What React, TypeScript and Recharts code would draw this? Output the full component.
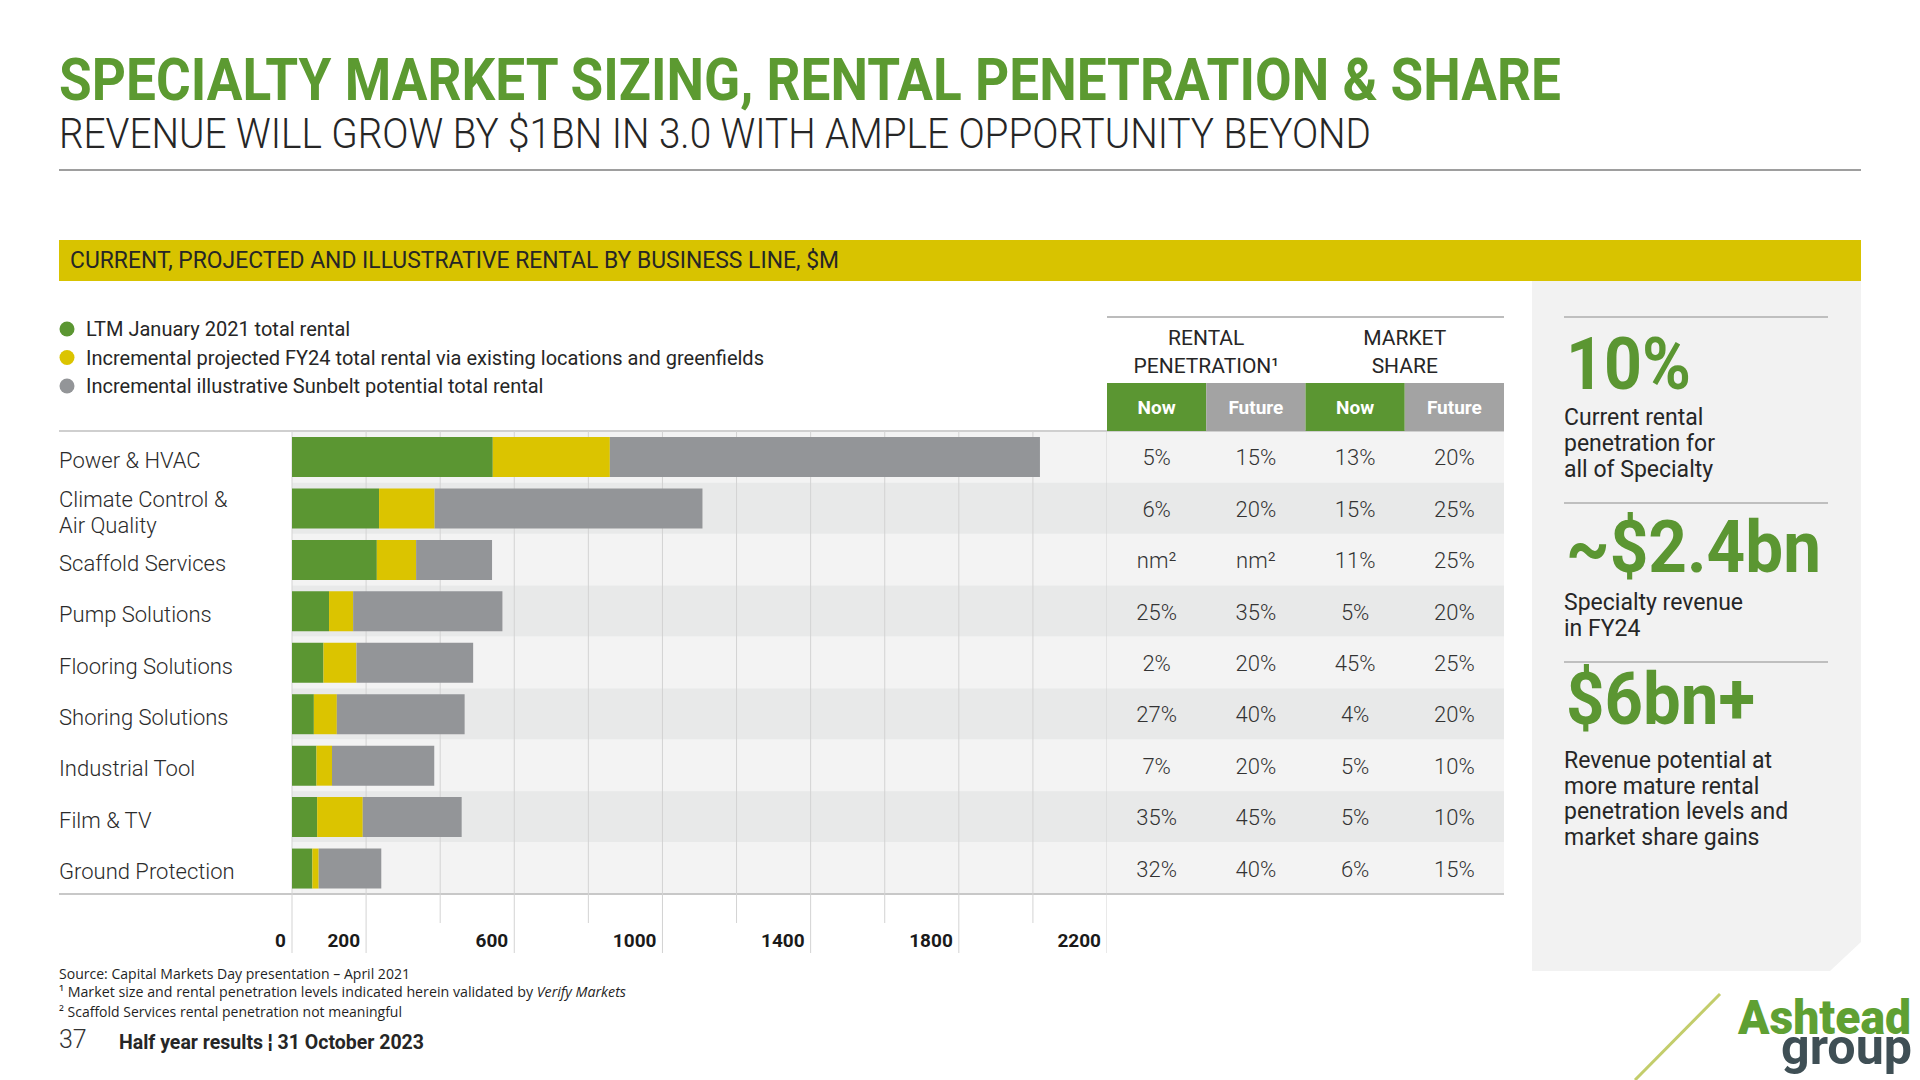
import React from 'react';
import { BarChart, Bar, XAxis, YAxis, CartesianGrid } from 'recharts';

// business lines (top to bottom)
const categories = [
  'Power & HVAC',
  'Climate Control &\nAir Quality',
  'Scaffold Services',
  'Pump Solutions',
  'Flooring Solutions',
  'Shoring Solutions',
  'Industrial Tool',
  'Film & TV',
  'Ground Protection',
];

// $m
const ltmRental = [542, 235, 229, 100, 85, 59, 66, 68, 55];
const projectedIncrement = [316, 150, 106, 65, 89, 62, 42, 123, 17];
const illustrativeIncrement = [1161, 723, 205, 403, 315, 345, 276, 267, 169];

const seriesNames = [
  'LTM January 2021 total rental',
  'Incremental projected FY24 total rental via existing locations and greenfields',
  'Incremental illustrative Sunbelt potential total rental',
];

const gridTicks = [0, 200, 400, 600, 800, 1000, 1200, 1400, 1600, 1800, 2000, 2200];
const labelledTicks = [0, 200, 600, 1000, 1400, 1800, 2200];

// table columns
const penetrationNow = ['5%', '6%', 'nm²', '25%', '2%', '27%', '7%', '35%', '32%'];
const penetrationFuture = ['15%', '20%', 'nm²', '35%', '20%', '40%', '20%', '45%', '40%'];
const shareNow = ['13%', '15%', '11%', '5%', '45%', '4%', '5%', '5%', '6%'];
const shareFuture = ['20%', '25%', '25%', '20%', '25%', '20%', '10%', '10%', '15%'];

const GREEN = '#5B9632';
const YELLOW = '#DBC400';
const GREY = '#939598';
const HEAD_GREY = '#A3A3A3';
const GRID = '#D3D3D3';
const TEXT = '#262626';

const PLOT_TOP = 431;
const PLOT_BOTTOM = 894;
const PLOT_LEFT = 292;
const PLOT_RIGHT = 1107;
const TABLE_RIGHT = 1504;
const LABEL_X = 59;

const chartData = categories.map((name, i) => ({
  name,
  ltm: ltmRental[i],
  projected: projectedIncrement[i],
  illustrative: illustrativeIncrement[i],
}));

const rowH = (PLOT_BOTTOM - PLOT_TOP) / categories.length;
const colW = (TABLE_RIGHT - PLOT_RIGHT) / 4;
const tableCols = [penetrationNow, penetrationFuture, shareNow, shareFuture];

const YTick = (props: any) => {
  const { y, payload } = props;
  const lines = String(payload.value).split('\n');
  const first = lines.length > 1 ? y - 1 : y + 11;
  return (
    <text x={LABEL_X} y={first} textAnchor="start" fontFamily="Roboto" fontWeight={300} fontSize={22} fill="#2b2b2b">
      {lines.map((l, i) => (
        <tspan key={i} x={LABEL_X} dy={i === 0 ? 0 : 26}>{l}</tspan>
      ))}
    </text>
  );
};

const XTick = (props: any) => {
  const { x, payload } = props;
  const labelled = labelledTicks.includes(payload.value);
  return (
    <g>
      <line x1={x} x2={x} y1={PLOT_BOTTOM} y2={PLOT_BOTTOM + (labelled ? 59 : 29)} stroke={GRID} strokeWidth={1} />
      {labelled && (
        <text x={x - 6} y={PLOT_BOTTOM + 53} textAnchor="end" fontFamily="Roboto" fontWeight={700} fontSize={19} fill="#1a1a1a">
          {payload.value}
        </text>
      )}
    </g>
  );
};

const Slide = () => {
  const colors = [GREEN, YELLOW, GREY];
  return (
    <svg width={1920} height={1080} style={{ position: 'absolute', left: 0, top: 0 }} fontFamily="Roboto">
      {/* heading */}
      <text x={59} y={100} fontSize={59} fontWeight={700} fill="#5C9A31" textLength={1502} lengthAdjust="spacingAndGlyphs">
        SPECIALTY MARKET SIZING, RENTAL PENETRATION &amp; SHARE
      </text>
      <text x={59} y={148} fontSize={42} fontWeight={300} fill={TEXT} textLength={1312} lengthAdjust="spacingAndGlyphs">
        REVENUE WILL GROW BY $1BN IN 3.0 WITH AMPLE OPPORTUNITY BEYOND
      </text>
      <line x1={59} x2={1861} y1={170} y2={170} stroke="#9E9E9E" strokeWidth={2} />

      <rect x={59} y={240} width={1802} height={41} fill="#D8C300" />
      <text x={70} y={268} fontSize={23} fill={TEXT} textLength={769} lengthAdjust="spacingAndGlyphs">
        CURRENT, PROJECTED AND ILLUSTRATIVE RENTAL BY BUSINESS LINE, $M
      </text>

      {/* side panel */}
      <polygon points="1532,281 1861,281 1861,942 1830,971 1532,971" fill="#F2F2F2" />

      {/* legend */}
      {seriesNames.map((s, i) => (
        <g key={s}>
          <circle cx={67} cy={329 + i * 28.5} r={7.5} fill={colors[i]} />
          <text x={86} y={336 + i * 28.5} fontSize={20} fill={TEXT}>{s}</text>
        </g>
      ))}

      {/* row stripes */}
      {categories.map((c, i) => (
        <rect key={c} x={PLOT_LEFT} y={PLOT_TOP + i * rowH} width={TABLE_RIGHT - PLOT_LEFT} height={rowH}
          fill={i % 2 === 0 ? '#F3F3F3' : '#E8E9E9'} />
      ))}
      <line x1={LABEL_X} x2={TABLE_RIGHT} y1={PLOT_TOP} y2={PLOT_TOP} stroke="#CFCFCF" strokeWidth={2} />
      <line x1={LABEL_X} x2={TABLE_RIGHT} y1={PLOT_BOTTOM} y2={PLOT_BOTTOM} stroke="#C8C8C8" strokeWidth={2} />

      {/* table header */}
      <line x1={PLOT_RIGHT} x2={TABLE_RIGHT} y1={317} y2={317} stroke="#A6A6A6" strokeWidth={1.5} />
      <text x={PLOT_RIGHT + colW} y={345} textAnchor="middle" fontSize={21} fill={TEXT}>RENTAL</text>
      <text x={PLOT_RIGHT + colW} y={373} textAnchor="middle" fontSize={21} fill={TEXT}>PENETRATION¹</text>
      <text x={PLOT_RIGHT + colW * 3} y={345} textAnchor="middle" fontSize={21} fill={TEXT}>MARKET</text>
      <text x={PLOT_RIGHT + colW * 3} y={373} textAnchor="middle" fontSize={21} fill={TEXT}>SHARE</text>
      {['Now', 'Future', 'Now', 'Future'].map((h, i) => (
        <g key={i}>
          <rect x={PLOT_RIGHT + i * colW} y={383} width={colW} height={48} fill={i % 2 === 0 ? GREEN : HEAD_GREY} />
          <text x={PLOT_RIGHT + (i + 0.5) * colW} y={414} textAnchor="middle" fontSize={19} fontWeight={700} fill="#fff">{h}</text>
        </g>
      ))}
      {tableCols.map((col, c) =>
        col.map((v, r) => (
          <text key={`${c}-${r}`} x={PLOT_RIGHT + (c + 0.5) * colW} y={PLOT_TOP + (r + 0.5) * rowH + 8.5}
            textAnchor="middle" fontSize={22} fontWeight={300} fill="#333">{v}</text>
        ))
      )}

      {/* key figures */}
      <line x1={1564} x2={1828} y1={317} y2={317} stroke="#8C8C8C" strokeWidth={1} />
      <text x={1566} y={389} fontSize={72} fontWeight={700} fill={GREEN} textLength={125} lengthAdjust="spacingAndGlyphs">10%</text>
      {['Current rental', 'penetration for', 'all of Specialty'].map((t, i) => (
        <text key={t} x={1564} y={425 + i * 26} fontSize={23} fill={TEXT}>{t}</text>
      ))}
      <line x1={1564} x2={1828} y1={503} y2={503} stroke="#8C8C8C" strokeWidth={1} />
      <text x={1566} y={572} fontSize={72} fontWeight={700} fill={GREEN} textLength={255} lengthAdjust="spacingAndGlyphs">~$2.4bn</text>
      {['Specialty revenue', 'in FY24'].map((t, i) => (
        <text key={t} x={1564} y={610 + i * 26} fontSize={23} fill={TEXT}>{t}</text>
      ))}
      <line x1={1564} x2={1828} y1={662} y2={662} stroke="#8C8C8C" strokeWidth={1} />
      <text x={1566} y={724} fontSize={72} fontWeight={700} fill={GREEN} textLength={189} lengthAdjust="spacingAndGlyphs">$6bn+</text>
      {['Revenue potential at', 'more mature rental', 'penetration levels and', 'market share gains'].map((t, i) => (
        <text key={t} x={1564} y={768 + i * 25.7} fontSize={23} fill={TEXT}>{t}</text>
      ))}

      {/* footnotes */}
      <g fontFamily="Open Sans" fontSize={14} fill="#1f1f1f">
        <text x={59} y={979} textLength={351} lengthAdjust="spacingAndGlyphs">Source: Capital Markets Day presentation – April 2021</text>
        <text x={59} y={997} textLength={567} lengthAdjust="spacingAndGlyphs">
          ¹ Market size and rental penetration levels indicated herein validated by <tspan fontStyle="italic">Verify Markets</tspan>
        </text>
        <text x={59} y={1017} textLength={343} lengthAdjust="spacingAndGlyphs">² Scaffold Services rental penetration not meaningful</text>
      </g>
      <text x={59} y={1048} fontSize={25} fontWeight={300} fill="#333">37</text>
      <text x={119} y={1049} fontSize={21} fontWeight={700} fill={TEXT} textLength={305} lengthAdjust="spacingAndGlyphs">
        Half year results ¦ 31 October 2023
      </text>

      {/* logo */}
      <line x1={1720} y1={994} x2={1635} y2={1080} stroke="#C3CD6B" strokeWidth={3} />
      <text x={1738} y={1034} fontSize={48} fontWeight={900} fill="#5FA033" textLength={173} lengthAdjust="spacingAndGlyphs">Ashtead</text>
      <text x={1781} y={1064} fontSize={50} fontWeight={700} fill="#3F4F55" textLength={131} lengthAdjust="spacingAndGlyphs">group</text>
    </svg>
  );
};

export default function App() {
  return (
    <div style={{ position: 'absolute', left: 0, top: 0, width: 1920, height: 1080, background: '#fff', overflow: 'hidden' }}>
      <Slide />
      <div style={{ position: 'absolute', left: 0, top: 0 }}>
        <BarChart
          width={PLOT_RIGHT}
          height={1000}
          data={chartData}
          layout="vertical"
          margin={{ top: PLOT_TOP, right: 0, bottom: 1000 - PLOT_BOTTOM - 60, left: 0 }}
          barCategoryGap={0}
        >
          <CartesianGrid horizontal={false} stroke={GRID} />
          <XAxis
            type="number"
            domain={[0, 2200]}
            ticks={gridTicks}
            interval={0}
            height={60}
            axisLine={false}
            tickLine={false}
            tick={<XTick />}
          />
          <YAxis
            type="category"
            dataKey="name"
            width={PLOT_LEFT}
            interval={0}
            axisLine={false}
            tickLine={false}
            tick={<YTick />}
          />
          <Bar dataKey="ltm" stackId="a" fill={GREEN} barSize={40} isAnimationActive={false} />
          <Bar dataKey="projected" stackId="a" fill={YELLOW} barSize={40} isAnimationActive={false} />
          <Bar dataKey="illustrative" stackId="a" fill={GREY} barSize={40} isAnimationActive={false} />
        </BarChart>
      </div>
    </div>
  );
}
